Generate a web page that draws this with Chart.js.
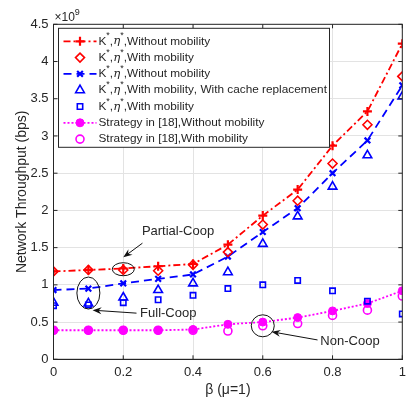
<!DOCTYPE html>
<html>
<head>
<meta charset="utf-8">
<script src="https://cdn.jsdelivr.net/npm/chart.js@4.4.0/dist/chart.umd.min.js"></script>
<style>
  html, body { margin: 0; padding: 0; background: #fff; }
  #wrap { width: 409px; height: 400px; }
</style>
</head>
<body>
<div id="wrap"><canvas id="chart"></canvas></div>
<script>
// beta values (mu = 1)
var betaValues = [0, 0.1, 0.2, 0.3, 0.4, 0.5, 0.6, 0.7, 0.8, 0.9, 1];

// network throughput, x10^9 bps
var redNoMobility   = [1.18, 1.20, 1.22, 1.25, 1.28, 1.54, 1.93, 2.28, 2.87, 3.33, 4.24];
var redMobility     = [1.18, 1.20, 1.20, 1.19, 1.27, 1.44, 1.81, 2.13, 2.63, 3.15, 3.80];
var blueNoMobility  = [0.93, 0.95, 1.02, 1.08, 1.14, 1.38, 1.71, 2.03, 2.50, 2.94, 3.68];
var blueCacheRepl   = [0.76, 0.75, 0.83, 0.93, 1.02, 1.17, 1.55, 1.92, 2.32, 2.74, 3.53];
var blueMobility    = [0.72, 0.73, 0.76, 0.80, 0.86, 0.95, 1.00, 1.06, 0.92, 0.78, 0.61];
var stratNoMobility = [0.39, 0.39, 0.39, 0.39, 0.40, 0.47, 0.50, 0.56, 0.65, 0.75, 0.92];
var stratMobility   = [0.39, 0.39, 0.39, 0.39, 0.39, 0.38, 0.45, 0.48, 0.59, 0.66, 0.85];

var seriesLabels = [
  'K*,η*,Without mobility',
  'K*,η*,With mobility',
  'K*,η*,Without mobility',
  'K*,η*,With mobility, With cache replacement',
  'K*,η*,With mobility',
  'Strategy in [18],Without mobility',
  'Strategy in [18],With mobility'
];

var xTicks = [0, 0.2, 0.4, 0.6, 0.8, 1];
var yTicks = [0, 0.5, 1, 1.5, 2, 2.5, 3, 3.5, 4, 4.5];

var textColor = '#262626';
var fontFam = '"Liberation Sans", Arial, Helvetica, sans-serif';

function pts(arr) {
  return arr.map((v, i) => ({ x: betaValues[i], y: v }));
}

// annotations: ellipse around a point + arrow + text (in data units)
var notes = [
  { text: 'Partial-Coop', tx: 0.357, ty: 1.72, ax: 0.255, ay: 1.56, hx: 0.20, hy: 1.37, ex: 0.2, ey: 1.21, rx: 11, ry: 6.5 },
  { text: 'Full-Coop',    tx: 0.329, ty: 0.61, ax: 0.238, ay: 0.62, hx: 0.112, hy: 0.66, ex: 0.1, ey: 0.89, rx: 11.5, ry: 16 },
  { text: 'Non-Coop',     tx: 0.850, ty: 0.24, ax: 0.757, ay: 0.26, hx: 0.625, hy: 0.37, ex: 0.6, ey: 0.45, rx: 11.5, ry: 11 }
];

var datasets = [
  { label: seriesLabels[0], data: pts(redNoMobility), borderColor: '#ff0000', backgroundColor: '#ff0000',
    borderWidth: 1.8, borderDash: [7, 3, 2, 3], pointStyle: 'cross', pointRadius: 4.5, pointBorderWidth: 2.2 },
  { label: seriesLabels[1], data: pts(redMobility), borderColor: '#ff0000', backgroundColor: 'rgba(0,0,0,0)',
    showLine: false, pointStyle: 'rectRot', pointRadius: 4.5, pointBorderWidth: 1.6 },
  { label: seriesLabels[2], data: pts(blueNoMobility), borderColor: '#0000ff', backgroundColor: '#0000ff',
    borderWidth: 1.8, borderDash: [8, 5], pointStyle: 'crossRot', pointRadius: 4, pointBorderWidth: 2.2 },
  { label: seriesLabels[3], data: pts(blueCacheRepl), borderColor: '#0000ff', backgroundColor: 'rgba(0,0,0,0)',
    showLine: false, pointStyle: 'triangle', pointRadius: 5, pointBorderWidth: 1.6 },
  { label: seriesLabels[4], data: pts(blueMobility), borderColor: '#0000ff', backgroundColor: 'rgba(0,0,0,0)',
    showLine: false, pointStyle: 'rect', pointRadius: 3.8, pointBorderWidth: 1.6 },
  { label: seriesLabels[5], data: pts(stratNoMobility), borderColor: '#ff00ff', backgroundColor: '#ff00ff',
    borderWidth: 1.8, borderDash: [2, 2], pointStyle: 'circle', pointRadius: 4, pointBorderWidth: 1 },
  { label: seriesLabels[6], data: pts(stratMobility), borderColor: '#ff00ff', backgroundColor: 'rgba(0,0,0,0)',
    showLine: false, pointStyle: 'circle', pointRadius: 4, pointBorderWidth: 1.6 }
];

// text with '*' drawn as superscript, η in italic
function drawRich(ctx, str, x, y, size) {
  var cx = x;
  for (var ch of str) {
    if (ch === '*') {
      ctx.font = Math.round(size * 0.75) + 'px ' + fontFam;
      ctx.fillText('*', cx, y - size * 0.45);
      cx += ctx.measureText('*').width;
    } else if (ch === 'η') {
      ctx.font = 'italic ' + size + 'px "DejaVu Serif", serif';
      ctx.fillText(ch, cx, y);
      cx += ctx.measureText(ch).width;
    } else {
      ctx.font = size + 'px ' + fontFam;
      ctx.fillText(ch, cx, y);
      cx += ctx.measureText(ch).width;
    }
  }
}

function drawMarker(ctx, ds, x, y) {
  ctx.save();
  ctx.setLineDash([]);
  ctx.strokeStyle = ds.borderColor;
  ctx.fillStyle = ds.backgroundColor;
  ctx.lineWidth = ds.pointBorderWidth;
  Chart.helpers.drawPoint(ctx, { pointStyle: ds.pointStyle, radius: ds.pointRadius, borderWidth: ds.pointBorderWidth, rotation: 0 }, x, y);
  ctx.restore();
}

var extras = {
  id: 'extras',
  afterDraw(chart) {
    var ctx = chart.ctx;
    var a = chart.chartArea;
    var xs = chart.scales.x, ys = chart.scales.y;
    ctx.save();

    // box and inward tick marks
    ctx.strokeStyle = textColor;
    ctx.lineWidth = 1;
    ctx.setLineDash([]);
    ctx.strokeRect(a.left, a.top, a.right - a.left, a.bottom - a.top);
    ctx.beginPath();
    xTicks.forEach(v => {
      var px = xs.getPixelForValue(v);
      ctx.moveTo(px, a.bottom); ctx.lineTo(px, a.bottom - 4);
      ctx.moveTo(px, a.top); ctx.lineTo(px, a.top + 4);
    });
    yTicks.forEach(v => {
      var py = ys.getPixelForValue(v);
      ctx.moveTo(a.left, py); ctx.lineTo(a.left + 4, py);
      ctx.moveTo(a.right, py); ctx.lineTo(a.right - 4, py);
    });
    ctx.stroke();

    // exponent label
    ctx.fillStyle = textColor;
    ctx.textBaseline = 'alphabetic';
    ctx.textAlign = 'left';
    ctx.font = '12px ' + fontFam;
    ctx.fillText('×10', a.left + 1, a.top - 3);
    var w = ctx.measureText('×10').width;
    ctx.font = '9px ' + fontFam;
    ctx.fillText('9', a.left + 1 + w, a.top - 9);

    // annotations
    notes.forEach(n => {
      var ex = xs.getPixelForValue(n.ex), ey = ys.getPixelForValue(n.ey);
      ctx.strokeStyle = '#111';
      ctx.lineWidth = 1;
      ctx.beginPath();
      ctx.ellipse(ex, ey, n.rx, n.ry, 0, 0, Math.PI * 2);
      ctx.stroke();
      var x1 = xs.getPixelForValue(n.ax), y1 = ys.getPixelForValue(n.ay);
      var x2 = xs.getPixelForValue(n.hx), y2 = ys.getPixelForValue(n.hy);
      var ang = Math.atan2(y2 - y1, x2 - x1);
      ctx.beginPath();
      ctx.moveTo(x1, y1);
      ctx.lineTo(x2 - 5 * Math.cos(ang), y2 - 5 * Math.sin(ang));
      ctx.stroke();
      ctx.fillStyle = '#111';
      ctx.beginPath();
      ctx.moveTo(x2, y2);
      ctx.lineTo(x2 - 9 * Math.cos(ang) + 3.5 * Math.sin(ang), y2 - 9 * Math.sin(ang) - 3.5 * Math.cos(ang));
      ctx.lineTo(x2 - 6 * Math.cos(ang), y2 - 6 * Math.sin(ang));
      ctx.lineTo(x2 - 9 * Math.cos(ang) - 3.5 * Math.sin(ang), y2 - 9 * Math.sin(ang) + 3.5 * Math.cos(ang));
      ctx.closePath();
      ctx.fill();
      ctx.fillStyle = textColor;
      ctx.font = '13px ' + fontFam;
      ctx.textAlign = 'center';
      ctx.textBaseline = 'middle';
      ctx.fillText(n.text, xs.getPixelForValue(n.tx), ys.getPixelForValue(n.ty));
    });

    // legend box
    var lx = a.left + 5, ly = a.top + 4, lw = 271, lh = 119;
    ctx.fillStyle = '#fff';
    ctx.fillRect(lx, ly, lw, lh);
    ctx.strokeStyle = textColor;
    ctx.lineWidth = 1;
    ctx.strokeRect(lx, ly, lw, lh);
    ctx.textAlign = 'left';
    ctx.textBaseline = 'middle';
    chart.data.datasets.forEach((ds, i) => {
      var ry = ly + 13 + i * 16.3;
      var sx1 = lx + 5, sx2 = lx + 38;
      if (ds.showLine !== false) {
        ctx.save();
        ctx.strokeStyle = ds.borderColor;
        ctx.lineWidth = ds.borderWidth;
        ctx.setLineDash(ds.borderDash || []);
        ctx.beginPath();
        ctx.moveTo(sx1, ry); ctx.lineTo(sx2, ry);
        ctx.stroke();
        ctx.restore();
      }
      drawMarker(ctx, ds, (sx1 + sx2) / 2, ry);
      ctx.fillStyle = textColor;
      drawRich(ctx, ds.label, lx + 40, ry, 11.8);
    });
    ctx.restore();
  }
};

new Chart(document.getElementById('chart'), {
  type: 'line',
  data: { datasets: datasets },
  plugins: [extras],
  options: {
    responsive: true,
    maintainAspectRatio: false,
    animation: false,
    layout: { padding: { top: 24.3, right: 0.7, left: 0, bottom: 0 } },
    plugins: { legend: { display: false }, tooltip: { enabled: false } },
    scales: {
      x: {
        type: 'linear', min: 0, max: 1,
        afterFit: s => { s.height = 40.7; s.paddingLeft = 0; s.paddingRight = 0; },
        afterBuildTicks: s => { s.ticks = xTicks.map(v => ({ value: v })); },
        ticks: { color: textColor, font: { size: 13, family: fontFam }, padding: 5, maxRotation: 0,
                 callback: v => String(v) },
        grid: { color: '#e3e3e3', drawTicks: false },
        border: { color: textColor },
        title: { display: true, text: 'β (μ=1)', color: textColor, font: { size: 14, family: fontFam }, padding: { top: 0, bottom: 1.6 } }
      },
      y: {
        min: 0, max: 4.5,
        afterFit: s => { s.width = 53.5; s.paddingTop = 0; s.paddingBottom = 0; },
        afterBuildTicks: s => { s.ticks = yTicks.map(v => ({ value: v })); },
        ticks: { color: textColor, font: { size: 13, family: fontFam }, padding: 5,
                 callback: v => String(v) },
        grid: { color: '#e3e3e3', drawTicks: false },
        border: { color: textColor },
        title: { display: true, text: 'Network Throughput (bps)', color: textColor, font: { size: 14, family: fontFam }, padding: { top: 13.6, bottom: 0 } }
      }
    }
  }
});
</script>
</body>
</html>
